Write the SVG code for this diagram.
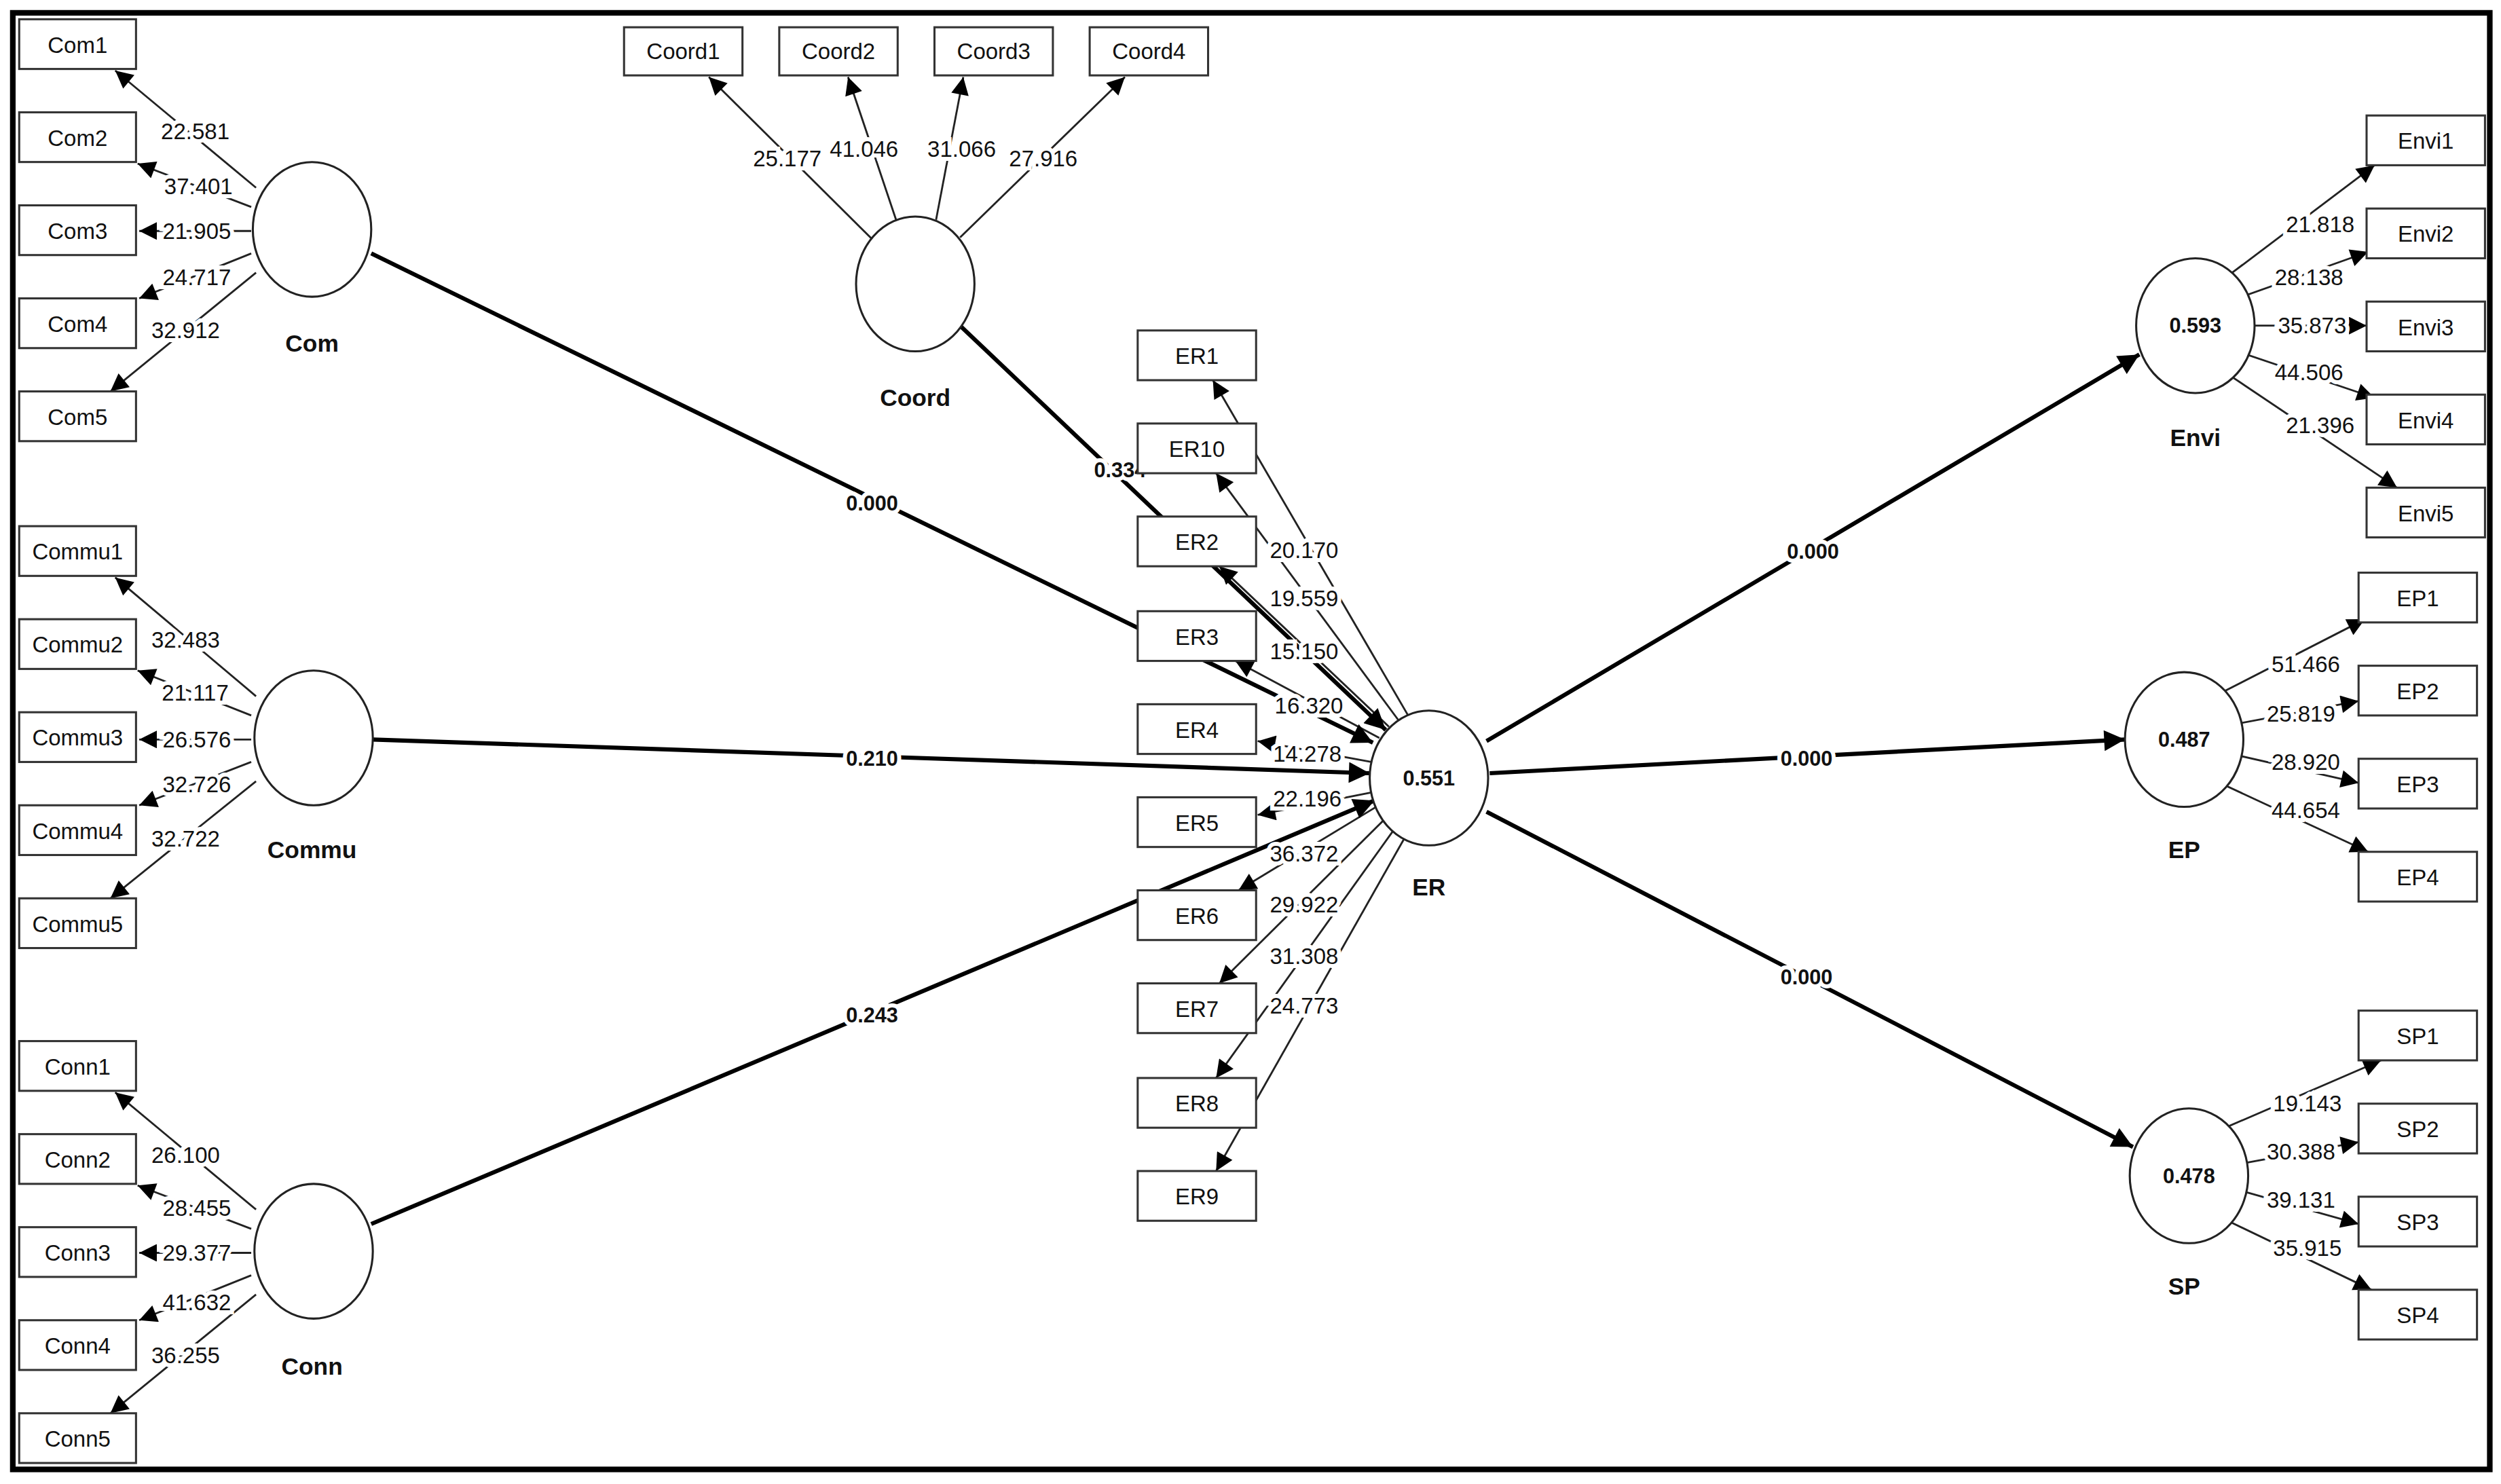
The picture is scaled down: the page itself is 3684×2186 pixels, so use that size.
<svg xmlns="http://www.w3.org/2000/svg" width="3684" height="2186" viewBox="0 0 3684 2186">
<style>
.b{fill:#fff;stroke:#333;stroke-width:1.3}
.c{fill:#fff;stroke:#222;stroke-width:1.3}
.t{font-family:"Liberation Sans",Arial,sans-serif;font-size:14px;fill:#111;text-anchor:middle;dominant-baseline:central}
.n{font-family:"Liberation Sans",Arial,sans-serif;font-size:15px;font-weight:bold;fill:#111;text-anchor:middle;dominant-baseline:central}
.v{font-family:"Liberation Sans",Arial,sans-serif;font-size:13px;font-weight:bold;fill:#111;text-anchor:middle;dominant-baseline:central;paint-order:stroke;stroke:#fff;stroke-width:5}
.l{font-family:"Liberation Sans",Arial,sans-serif;font-size:14px;fill:#111;text-anchor:middle;dominant-baseline:central;paint-order:stroke;stroke:#fff;stroke-width:5}
.ld{stroke:#222;stroke-width:1.2;fill:none;marker-end:url(#a)}
.p{stroke:#000;stroke-width:2.6;fill:none;marker-end:url(#a2)}
</style>
<defs>
<marker id="a" viewBox="0 0 10 10" refX="10" refY="5" markerWidth="13" markerHeight="11" markerUnits="userSpaceOnUse" orient="auto"><path d="M0,0L10,5L0,10z" fill="#000"/></marker>
<marker id="a2" viewBox="0 0 10 10" refX="10" refY="5" markerWidth="16" markerHeight="13" markerUnits="userSpaceOnUse" orient="auto"><path d="M0,0L10,5L0,10z" fill="#000"/></marker>
</defs>
<rect width="3684" height="2186" fill="#fff"/>
<g transform="scale(2.357,2.363)">
<rect x="8" y="8" width="1548" height="908" fill="none" stroke="#000" stroke-width="3.5"/>
<g id="connectors">
<line class="ld" x1="160" y1="117" x2="72" y2="44"/>
<line class="ld" x1="157" y1="129" x2="86" y2="102"/>
<line class="ld" x1="157" y1="144" x2="87" y2="144"/>
<line class="ld" x1="157" y1="158" x2="87" y2="186"/>
<line class="ld" x1="160" y1="170" x2="69" y2="244"/>
<line class="ld" x1="160" y1="434" x2="72" y2="360"/>
<line class="ld" x1="157" y1="446" x2="86" y2="418"/>
<line class="ld" x1="157" y1="461" x2="87" y2="461"/>
<line class="ld" x1="157" y1="475" x2="87" y2="502"/>
<line class="ld" x1="160" y1="487" x2="69" y2="560"/>
<line class="ld" x1="160" y1="754" x2="72" y2="681"/>
<line class="ld" x1="157" y1="766" x2="86" y2="739"/>
<line class="ld" x1="157" y1="781" x2="87" y2="781"/>
<line class="ld" x1="157" y1="795" x2="87" y2="823"/>
<line class="ld" x1="160" y1="807" x2="69" y2="881"/>
<line class="ld" x1="546" y1="150" x2="443" y2="48"/>
<line class="ld" x1="560" y1="137" x2="530" y2="48"/>
<line class="ld" x1="585" y1="137" x2="602" y2="48"/>
<line class="ld" x1="600" y1="148" x2="703" y2="48"/>
<line class="ld" x1="880" y1="446" x2="758" y2="237"/>
<line class="ld" x1="874" y1="449" x2="760" y2="295"/>
<line class="ld" x1="868" y1="453" x2="762" y2="353"/>
<line class="ld" x1="862" y1="460" x2="772" y2="412"/>
<line class="ld" x1="857" y1="475" x2="786" y2="462"/>
<line class="ld" x1="857" y1="494" x2="786" y2="508"/>
<line class="ld" x1="860" y1="503" x2="774" y2="555"/>
<line class="ld" x1="866" y1="510" x2="762" y2="613"/>
<line class="ld" x1="872" y1="516" x2="760" y2="672"/>
<line class="ld" x1="878" y1="522" x2="760" y2="730"/>
<line class="ld" x1="1395" y1="170" x2="1484" y2="103"/>
<line class="ld" x1="1401" y1="185" x2="1480" y2="157"/>
<line class="ld" x1="1409" y1="203" x2="1479" y2="203"/>
<line class="ld" x1="1401" y1="220" x2="1484" y2="248"/>
<line class="ld" x1="1395" y1="235" x2="1498" y2="304"/>
<line class="ld" x1="1384" y1="434" x2="1478" y2="386"/>
<line class="ld" x1="1399" y1="451" x2="1474" y2="437"/>
<line class="ld" x1="1399" y1="471" x2="1474" y2="488"/>
<line class="ld" x1="1385" y1="487" x2="1480" y2="531"/>
<line class="ld" x1="1386" y1="705" x2="1488" y2="661"/>
<line class="ld" x1="1403" y1="725" x2="1474" y2="712"/>
<line class="ld" x1="1403" y1="743" x2="1474" y2="763"/>
<line class="ld" x1="1388" y1="759" x2="1482" y2="804"/>
<line class="p" x1="232" y1="158" x2="858" y2="463"/>
<line class="p" x1="233" y1="461" x2="856" y2="482"/>
<line class="p" x1="232" y1="763" x2="859" y2="499"/>
<line class="p" x1="600" y1="203" x2="866" y2="455"/>
<line class="p" x1="929" y1="462" x2="1337" y2="221"/>
<line class="p" x1="931" y1="482" x2="1328" y2="461"/>
<line class="p" x1="929" y1="506" x2="1333" y2="715"/>
<text class="l" x="122" y="82">22.581</text>
<text class="l" x="124" y="116">37.401</text>
<text class="l" x="123" y="144">21.905</text>
<text class="l" x="123" y="173">24.717</text>
<text class="l" x="116" y="206">32.912</text>
<text class="l" x="116" y="399">32.483</text>
<text class="l" x="122" y="432">21.117</text>
<text class="l" x="123" y="461">26.576</text>
<text class="l" x="123" y="489">32.726</text>
<text class="l" x="116" y="523">32.722</text>
<text class="l" x="116" y="720">26.100</text>
<text class="l" x="123" y="753">28.455</text>
<text class="l" x="123" y="781">29.377</text>
<text class="l" x="123" y="812">41.632</text>
<text class="l" x="116" y="845">36.255</text>
<text class="l" x="492" y="99">25.177</text>
<text class="l" x="540" y="93">41.046</text>
<text class="l" x="601" y="93">31.066</text>
<text class="l" x="652" y="99">27.916</text>
<text class="l" x="815" y="343">20.170</text>
<text class="l" x="815" y="373">19.559</text>
<text class="l" x="815" y="406">15.150</text>
<text class="l" x="818" y="440">16.320</text>
<text class="l" x="817" y="470">14.278</text>
<text class="l" x="817" y="498">22.196</text>
<text class="l" x="815" y="532">36.372</text>
<text class="l" x="815" y="564">29.922</text>
<text class="l" x="815" y="596">31.308</text>
<text class="l" x="815" y="627">24.773</text>
<text class="l" x="1450" y="140">21.818</text>
<text class="l" x="1443" y="173">28.138</text>
<text class="l" x="1445" y="203">35.873</text>
<text class="l" x="1443" y="232">44.506</text>
<text class="l" x="1450" y="265">21.396</text>
<text class="l" x="1441" y="414">51.466</text>
<text class="l" x="1438" y="445">25.819</text>
<text class="l" x="1441" y="475">28.920</text>
<text class="l" x="1441" y="505">44.654</text>
<text class="l" x="1442" y="688">19.143</text>
<text class="l" x="1438" y="718">30.388</text>
<text class="l" x="1438" y="748">39.131</text>
<text class="l" x="1442" y="778">35.915</text>
<text class="v" x="545" y="314">0.000</text>
<text class="v" x="545" y="473">0.210</text>
<text class="v" x="545" y="633">0.243</text>
<text class="v" x="700" y="293">0.334</text>
<text class="v" x="1133" y="344">0.000</text>
<text class="v" x="1129" y="473">0.000</text>
<text class="v" x="1129" y="609">0.000</text>
</g>
<g id="Com1"><rect class="b" x="12" y="12" width="73" height="31"/><text class="t" x="48.5" y="28">Com1</text></g>
<g id="Com2"><rect class="b" x="12" y="70" width="73" height="31"/><text class="t" x="48.5" y="86">Com2</text></g>
<g id="Com3"><rect class="b" x="12" y="128" width="73" height="31"/><text class="t" x="48.5" y="144">Com3</text></g>
<g id="Com4"><rect class="b" x="12" y="186" width="73" height="31"/><text class="t" x="48.5" y="202">Com4</text></g>
<g id="Com5"><rect class="b" x="12" y="244" width="73" height="31"/><text class="t" x="48.5" y="260">Com5</text></g>
<g id="Commu1"><rect class="b" x="12" y="328" width="73" height="31"/><text class="t" x="48.5" y="344">Commu1</text></g>
<g id="Commu2"><rect class="b" x="12" y="386" width="73" height="31"/><text class="t" x="48.5" y="402">Commu2</text></g>
<g id="Commu3"><rect class="b" x="12" y="444" width="73" height="31"/><text class="t" x="48.5" y="460">Commu3</text></g>
<g id="Commu4"><rect class="b" x="12" y="502" width="73" height="31"/><text class="t" x="48.5" y="518">Commu4</text></g>
<g id="Commu5"><rect class="b" x="12" y="560" width="73" height="31"/><text class="t" x="48.5" y="576">Commu5</text></g>
<g id="Conn1"><rect class="b" x="12" y="649" width="73" height="31"/><text class="t" x="48.5" y="665">Conn1</text></g>
<g id="Conn2"><rect class="b" x="12" y="707" width="73" height="31"/><text class="t" x="48.5" y="723">Conn2</text></g>
<g id="Conn3"><rect class="b" x="12" y="765" width="73" height="31"/><text class="t" x="48.5" y="781">Conn3</text></g>
<g id="Conn4"><rect class="b" x="12" y="823" width="73" height="31"/><text class="t" x="48.5" y="839">Conn4</text></g>
<g id="Conn5"><rect class="b" x="12" y="881" width="73" height="31"/><text class="t" x="48.5" y="897">Conn5</text></g>
<g id="Coord1"><rect class="b" x="390" y="17" width="74" height="30"/><text class="t" x="427" y="32">Coord1</text></g>
<g id="Coord2"><rect class="b" x="487" y="17" width="74" height="30"/><text class="t" x="524" y="32">Coord2</text></g>
<g id="Coord3"><rect class="b" x="584" y="17" width="74" height="30"/><text class="t" x="621" y="32">Coord3</text></g>
<g id="Coord4"><rect class="b" x="681" y="17" width="74" height="30"/><text class="t" x="718" y="32">Coord4</text></g>
<g id="ER1"><rect class="b" x="711" y="206" width="74" height="31"/><text class="t" x="748" y="222">ER1</text></g>
<g id="ER10"><rect class="b" x="711" y="264" width="74" height="31"/><text class="t" x="748" y="280">ER10</text></g>
<g id="ER2"><rect class="b" x="711" y="322" width="74" height="31"/><text class="t" x="748" y="338">ER2</text></g>
<g id="ER3"><rect class="b" x="711" y="381" width="74" height="31"/><text class="t" x="748" y="397">ER3</text></g>
<g id="ER4"><rect class="b" x="711" y="439" width="74" height="31"/><text class="t" x="748" y="455">ER4</text></g>
<g id="ER5"><rect class="b" x="711" y="497" width="74" height="31"/><text class="t" x="748" y="513">ER5</text></g>
<g id="ER6"><rect class="b" x="711" y="555" width="74" height="31"/><text class="t" x="748" y="571">ER6</text></g>
<g id="ER7"><rect class="b" x="711" y="613" width="74" height="31"/><text class="t" x="748" y="629">ER7</text></g>
<g id="ER8"><rect class="b" x="711" y="672" width="74" height="31"/><text class="t" x="748" y="688">ER8</text></g>
<g id="ER9"><rect class="b" x="711" y="730" width="74" height="31"/><text class="t" x="748" y="746">ER9</text></g>
<g id="Envi1"><rect class="b" x="1479" y="72" width="74" height="31"/><text class="t" x="1516" y="88">Envi1</text></g>
<g id="Envi2"><rect class="b" x="1479" y="130" width="74" height="31"/><text class="t" x="1516" y="146">Envi2</text></g>
<g id="Envi3"><rect class="b" x="1479" y="188" width="74" height="31"/><text class="t" x="1516" y="204">Envi3</text></g>
<g id="Envi4"><rect class="b" x="1479" y="246" width="74" height="31"/><text class="t" x="1516" y="262">Envi4</text></g>
<g id="Envi5"><rect class="b" x="1479" y="304" width="74" height="31"/><text class="t" x="1516" y="320">Envi5</text></g>
<g id="EP1"><rect class="b" x="1474" y="357" width="74" height="31"/><text class="t" x="1511" y="373">EP1</text></g>
<g id="EP2"><rect class="b" x="1474" y="415" width="74" height="31"/><text class="t" x="1511" y="431">EP2</text></g>
<g id="EP3"><rect class="b" x="1474" y="473" width="74" height="31"/><text class="t" x="1511" y="489">EP3</text></g>
<g id="EP4"><rect class="b" x="1474" y="531" width="74" height="31"/><text class="t" x="1511" y="547">EP4</text></g>
<g id="SP1"><rect class="b" x="1474" y="630" width="74" height="31"/><text class="t" x="1511" y="646">SP1</text></g>
<g id="SP2"><rect class="b" x="1474" y="688" width="74" height="31"/><text class="t" x="1511" y="704">SP2</text></g>
<g id="SP3"><rect class="b" x="1474" y="746" width="74" height="31"/><text class="t" x="1511" y="762">SP3</text></g>
<g id="SP4"><rect class="b" x="1474" y="804" width="74" height="31"/><text class="t" x="1511" y="820">SP4</text></g>
<g id="Com"><ellipse class="c" cx="195" cy="143" rx="37" ry="42"/><text class="n" x="195" y="214">Com</text></g>
<g id="Commu"><ellipse class="c" cx="196" cy="460" rx="37" ry="42"/><text class="n" x="195" y="530">Commu</text></g>
<g id="Conn"><ellipse class="c" cx="196" cy="780" rx="37" ry="42"/><text class="n" x="195" y="852">Conn</text></g>
<g id="Coord"><ellipse class="c" cx="572" cy="177" rx="37" ry="42"/><text class="n" x="572" y="248">Coord</text></g>
<g id="ER"><ellipse class="c" cx="893" cy="485" rx="37" ry="42"/><text class="v" x="893" y="485">0.551</text><text class="n" x="893" y="553">ER</text></g>
<g id="Envi"><ellipse class="c" cx="1372" cy="203" rx="37" ry="42"/><text class="v" x="1372" y="203">0.593</text><text class="n" x="1372" y="273">Envi</text></g>
<g id="EP"><ellipse class="c" cx="1365" cy="461" rx="37" ry="42"/><text class="v" x="1365" y="461">0.487</text><text class="n" x="1365" y="530">EP</text></g>
<g id="SP"><ellipse class="c" cx="1368" cy="733" rx="37" ry="42"/><text class="v" x="1368" y="733">0.478</text><text class="n" x="1365" y="802">SP</text></g>
</g>
</svg>
